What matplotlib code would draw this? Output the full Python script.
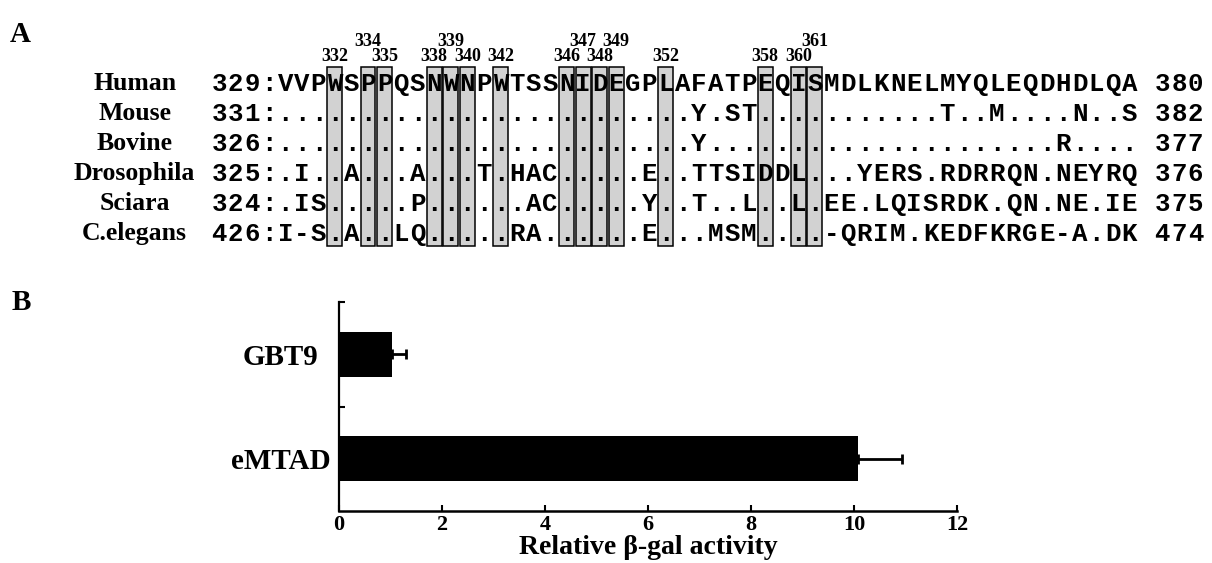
import matplotlib
matplotlib.use('Agg')
import matplotlib.pyplot as plt
from matplotlib.patches import Rectangle

# Estilo general: serif en negrita, como en la figura original
plt.rcParams['font.family'] = 'Liberation Serif'
plt.rcParams['font.weight'] = 'bold'
plt.rcParams['axes.labelweight'] = 'bold'

# --- Panel A: alineamiento de secuencias ---
especies = ['Human', 'Mouse', 'Bovine', 'Drosophila', 'Sciara', 'C.elegans']
inicio = [329, 331, 326, 325, 324, 426]
final = [380, 382, 377, 376, 375, 474]
secuencias = [
    'VVPWSPPQSNWNPWTSSNIDEGPLAFATPEQISMDLKNELMYQLEQDHDLQA',
    '.........................Y.ST...........T..M....N..S',
    '.........................Y.....................R....',
    '.I..A...A...T.HAC.....E..TTSIDDL...YERS.RDRRQN.NEYRQ',
    '.IS.....P......AC.....Y..T..L..L.EE.LQISRDK.QN.NE.IE',
    'I-S.A..LQ.....RA......E...MSM....-QRIM.KEDFKRGE-A.DK',
]
# Residuos conservados (numeración humana) y los que van en la fila superior
posiciones_caja = [332, 334, 335, 338, 339, 340, 342, 346, 347, 348, 349, 352, 358, 360, 361]
etiquetas_arriba = [334, 339, 347, 349, 361]

# --- Panel B: actividad relativa ---
construcciones = ['GBT9', 'eMTAD']
actividad = [1.03, 10.08]
error_sup = [0.28, 0.86]
ticks_x = [0, 2, 4, 6, 8, 10, 12]


def generar_figura():
    print("[INFO] Generando figura...")
    for s in secuencias:
        assert len(s) == len(secuencias[0])

    fig = plt.figure(figsize=(12.12, 5.63), dpi=100)

    # 1. Panel A en un eje que cubre toda la figura (x = columna, y = fila)
    ax_a = fig.add_axes([0, 0, 1, 1])
    ax_a.set_xlim(-17.24, 56.0)
    ax_a.set_ylim(15.97, -2.8)
    ax_a.axis('off')

    # Cajas sombreadas sobre las columnas conservadas
    for p in posiciones_caja:
        col = p - inicio[0]
        ax_a.add_patch(Rectangle((col - 0.45, -0.55), 0.9, 5.95,
                                 facecolor='#d2d2d2', edgecolor='black',
                                 linewidth=1.1, zorder=1))
        fila_y = -1.4 if p in etiquetas_arriba else -0.93
        ax_a.text(col, fila_y, str(p), ha='center', va='center', fontsize=13, zorder=3)

    # Nombres, numeración y residuos (un carácter por columna)
    for fila, nombre in enumerate(especies):
        ax_a.text(-9.1, fila, nombre, ha='center', va='center', fontsize=18.5, zorder=3)
        linea = f"{inicio[fila]}:" + secuencias[fila] + " " + f"{final[fila]}"
        for k, ch in enumerate(linea):
            if ch == ' ':
                continue
            ax_a.text(k - 4, fila, ch, ha='center', va='center', fontsize=18.5,
                      family='Liberation Mono', fontweight='bold', zorder=3)

    fig.text(20 / 1212, 1 - 35 / 563, 'A', ha='center', va='center', fontsize=21)
    fig.text(21 / 1212, 1 - 302 / 563, 'B', ha='center', va='center', fontsize=21)

    # 2. Panel B: barras horizontales con error
    ax_b = fig.add_axes([339 / 1212, 52 / 563, 618 / 1212, 209 / 563])
    ypos = list(range(len(construcciones)))
    ax_b.barh(ypos, actividad, height=0.43, color='black', zorder=2)
    ax_b.errorbar(actividad, ypos, xerr=[[0] * len(error_sup), error_sup], fmt='none',
                  ecolor='black', elinewidth=2, capsize=3.5, capthick=2, zorder=3)

    ax_b.set_xlim(0, 12)
    ax_b.set_ylim(1.5, -0.5)
    ax_b.set_xticks(ticks_x)
    ax_b.set_xticklabels([str(t) for t in ticks_x])
    ax_b.set_yticks(ypos)
    ax_b.set_yticklabels(construcciones, ha='center')
    ax_b.set_yticks([-0.5, 0.5], minor=True)

    ax_b.tick_params(axis='x', direction='in', length=4, width=1.5, labelsize=16, pad=3)
    ax_b.tick_params(axis='y', which='major', length=0, labelsize=21, pad=42)
    ax_b.tick_params(axis='y', which='minor', direction='in', length=4, width=1.5)

    ax_b.set_xlabel('Relative β-gal activity', fontsize=20, fontweight='bold', labelpad=0)

    ax_b.spines['top'].set_visible(False)
    ax_b.spines['right'].set_visible(False)
    ax_b.spines['left'].set_linewidth(1.6)
    ax_b.spines['bottom'].set_linewidth(1.8)

    # 3. Exportar
    fig.savefig('out.png', dpi=100)
    print("[OK] Figura exportada a: out.png")
    plt.close(fig)


if __name__ == '__main__':
    generar_figura()
